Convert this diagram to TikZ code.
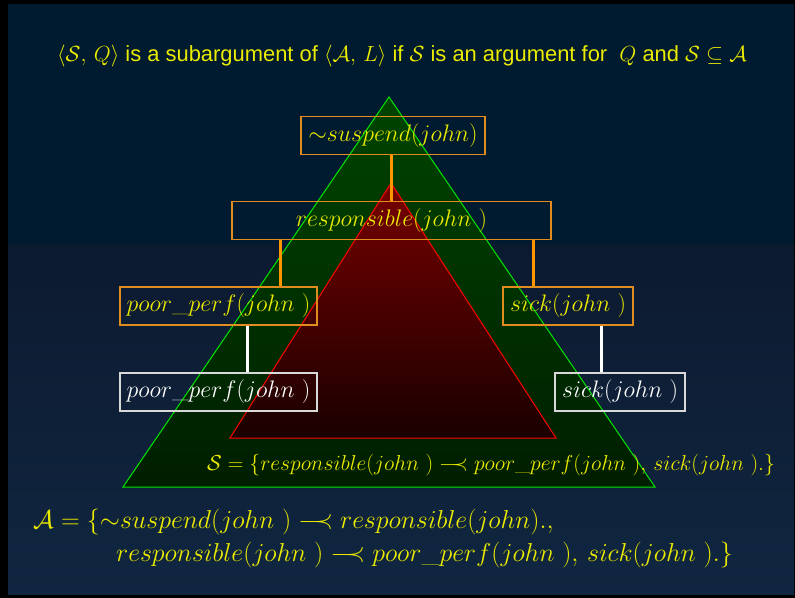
\RequirePackage{fix-cm}
\documentclass[tikz,border=0pt]{standalone}
\usepackage{amsmath}
\usepackage{fontspec}
\newfontfamily\slidefont{Liberation Sans}
\usetikzlibrary{positioning,calc}
\definecolor{slidenavy}{RGB}{0,26,48}
\definecolor{slidenavyb}{RGB}{12,26,48}
\definecolor{slidenavyc}{RGB}{16,38,64}
\definecolor{argyellow}{RGB}{235,235,0}
\definecolor{argorange}{RGB}{225,140,30}
\definecolor{linkorange}{RGB}{255,150,0}
\definecolor{treegreen}{RGB}{0,230,0}
\definecolor{treegreentop}{RGB}{0,68,0}
\definecolor{treegreenbot}{RGB}{0,30,0}
\definecolor{subredtop}{RGB}{118,0,0}
\definecolor{subredbot}{RGB}{26,0,0}
\newcommand{\defeasible}{\mathrel{-\!\!\!\prec}}

\begin{document}
\begin{tikzpicture}[
  x=1bp, y=-1bp,
  argbox/.style={rectangle, draw=argorange, line width=1.5bp, inner sep=0pt, minimum height=38bp, text=argyellow, font=\fontsize{24}{28}\selectfont},
  leafbox/.style={argbox, draw=white!85!black, text=white},
  orangelink/.style={draw=linkorange, line width=3bp},
  whitelink/.style={draw=white, line width=3bp},
  formula/.style={text=argyellow, anchor=base west, inner sep=0pt}
]

% Background
\fill[black] (0,0) rectangle (795,598);
\fill[slidenavy] (8,4) rectangle (794,244);
\shade[top color=slidenavyb, bottom color=slidenavyc] (8,244) rectangle (794,594);

% Title
\node[text=argyellow, font=\slidefont\fontsize{22}{26}\selectfont] (title) at (402,56)
  {$\langle\mathcal{S},\,Q\rangle$ is a subargument of $\langle\mathcal{A},\,L\rangle$ if $\mathcal{S}$ is an argument for \ $Q$ and $\mathcal{S}\subseteq\mathcal{A}$};

% Argument A (green) and subargument S (red)
\shadedraw[draw=treegreen, line width=1bp, top color=treegreentop, bottom color=treegreenbot]
  (389,97) -- (655,487) -- (123,487) -- cycle;
\shadedraw[draw=red, line width=1bp, top color=subredtop, bottom color=subredbot]
  (391,183) -- (556,438) -- (230,438) -- cycle;

% Dialectical tree nodes
\node[argbox, minimum width=184bp] (suspend) at (393,135.5) {$\mathord{\sim}suspend(john)$};
\node[argbox, minimum width=319bp] (resp) at (391.5,220.5) {$responsible(john\ )$};
\node[argbox, minimum width=197bp] (poor) at (218.5,306) {$poor\_perf(john\ )$};
\node[argbox, minimum width=130bp] (sick) at (568,306) {$sick(john\ )$};
\node[leafbox, minimum width=197bp] (poorfact) at (218.5,392) {$poor\_perf(john\ )$};
\node[leafbox, minimum width=130bp] (sickfact) at (620,392) {$sick(john\ )$};

% Links
\coordinate (poorjoin) at (280,0);
\coordinate (sickjoin) at (533,0);
\coordinate (poorleaf) at (247,0);
\coordinate (sickleaf) at (601,0);
\draw[orangelink] (suspend.south -| resp.north) -- (resp.north);
\draw[orangelink] (resp.south -| poorjoin) -- (poor.north -| poorjoin);
\draw[orangelink] (resp.south -| sickjoin) -- (sick.north -| sickjoin);
\draw[whitelink] (poor.south -| poorleaf) -- (poorfact.north -| poorleaf);
\draw[whitelink] (sick.south -| sickleaf) -- (sickfact.north -| sickleaf);

% Sets
\node[formula, font=\fontsize{21.7}{26}\selectfont] (setS) at (207,470)
  {$\mathcal{S}=\{responsible(john\ )\defeasible poor\_perf(john\ ),\,sick(john\ ).\}$};
\node[formula, font=\fontsize{26}{30}\selectfont] (setA) at (33,528)
  {$\mathcal{A}=\{\mathord{\sim}suspend(john\ )\defeasible responsible(john).,$};
\node[formula, font=\fontsize{26}{30}\selectfont] (setAb) at (116,561)
  {$responsible(john\ )\defeasible poor\_perf(john\ ),\,sick(john\ ).\}$};

\end{tikzpicture}
\end{document}
